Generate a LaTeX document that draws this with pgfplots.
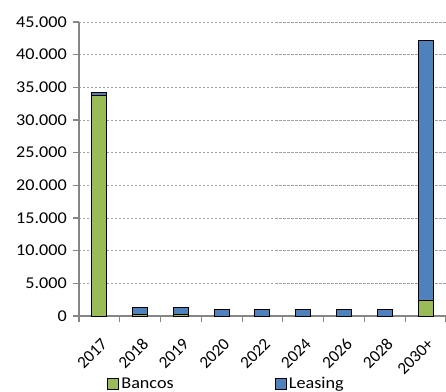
\documentclass[border=0pt]{standalone}
\usepackage{graphicx}
\usepackage{pgfplots}
\pgfplotsset{compat=1.18}
\usepackage{fontspec}
\setmainfont{Carlito}
\definecolor{bancos}{HTML}{9BBB59}
\definecolor{leasing}{HTML}{4F81BD}
\definecolor{axisgray}{HTML}{868686}
\definecolor{gridgray}{HTML}{A0A0A0}
% slightly widened lettering for labels
\newcommand{\wide}[1]{\scalebox{1.1}[1]{#1}}

\begin{document}
\begin{tikzpicture}[font=\fontsize{16.5bp}{19bp}\selectfont]
\begin{axis}[
  scale only axis,
  width=367bp, height=294bp,
  ybar stacked,
  bar width=15bp,
  xmin=-0.5, xmax=8.5,
  ymin=0, ymax=45000,
  axis x line*=bottom,
  axis y line*=left,
  axis line style={axisgray, line width=1.2bp},
  every tick/.style={axisgray, line width=1.2bp},
  tick align=outside,
  xtick={0,...,8},
  xticklabels={2017,2018,2019,2020,2022,2024,2026,2028,2030+},
  major x tick style={draw=none},
  minor xtick={-0.5,0.5,...,8.5},
  minor tick length=6bp,
  major tick length=6bp,
  ytick={0,5000,...,45000},
  scaled y ticks=false,
  yticklabel={\wide{\pgfmathprintnumber{\tick}}},
  ymajorgrids,
  grid style={gridgray, dash pattern=on 2.5bp off 1.5bp, line width=0.8bp},
  /pgf/number format/.cd, 1000 sep={.}, assume math mode=true,
  /pgfplots/.cd,
  every tick label/.append style={font=\fontsize{16.5bp}{19bp}\selectfont, black},
  yticklabel style={anchor=east, inner sep=0pt, xshift=-6bp},
  xticklabel style={font=\fontsize{17bp}{19bp}\selectfont, xshift=1bp, yshift=-15bp, rotate=45, anchor=north east, inner sep=0pt},
  legend columns=2,
  legend style={draw=none, fill=none, at={(0.0771,-0.2296)}, anchor=west,
    font=\fontsize{16.5bp}{19bp}\selectfont, inner sep=0pt,
    nodes={inner sep=2bp}},
  legend image code/.code={\draw[#1, draw=black, line width=0.9bp] (0bp,-5.5bp) rectangle (11bp,5.5bp);},
  clip=false,
]
\addplot[fill=bancos, draw=black, line width=1bp] coordinates {
  (0,33800) (1,300) (2,300) (3,0) (4,0) (5,0) (6,0) (7,0) (8,2400)
};
\addplot[fill=leasing, draw=black, line width=1bp] coordinates {
  (0,450) (1,1000) (2,1000) (3,1000) (4,1000) (5,1000) (6,1000) (7,1000) (8,39700)
};
\legend{\makebox[151.7bp][l]{\wide{Bancos}}, \wide{Leasing}}
\end{axis}
\pgfresetboundingbox
\path[use as bounding box] ([xshift=-79bp,yshift=-76bp]current axis.south west)
  rectangle ([yshift=22bp]current axis.north east);
\end{tikzpicture}
\end{document}
